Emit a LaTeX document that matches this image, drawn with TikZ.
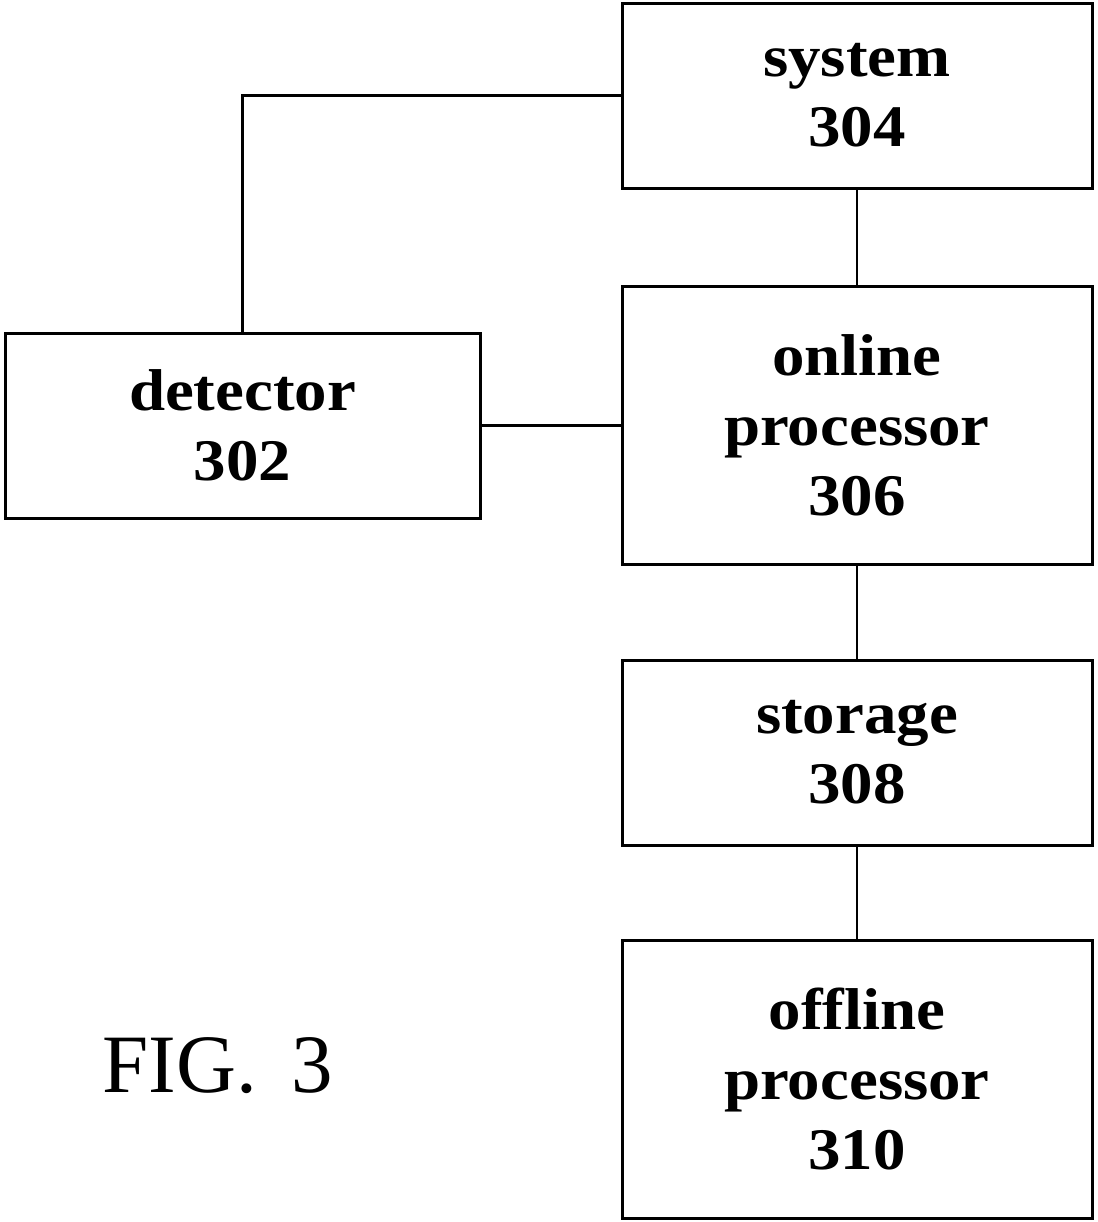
\documentclass[tikz,border=0pt]{standalone}
\usepackage{fontspec}
\setmainfont{Liberation Serif}
\newfontfamily\boxfont[FakeStretch=1.1]{Liberation Serif}
\usetikzlibrary{positioning}

\begin{document}
\begin{tikzpicture}[x=0.5pt,y=-0.5pt,
    block/.style={draw,line width=1.5pt,inner sep=0pt,align=center,
      minimum width=235pt,minimum height=92.5pt,
      font=\boxfont\fontsize{29.5}{35}\selectfont\bfseries},
    tall/.style={minimum height=139pt},
    link/.style={line width=1.2pt}]
  \useasboundingbox (0,0) rectangle (1098,1222);

  \node[block] (sys) at (857,95.5) {system\\304};
  \node[block,tall] (online) at (857,425) {online\\processor\\306};
  \node[block,minimum width=237.5pt] (det) at (242.5,425.5) {detector\\302};
  \node[block] (store) at (857,752.5) {storage\\308};
  \node[block,tall] (offline) at (857,1079) {offline\\processor\\310};
  \node[anchor=base,font=\fontsize{41.5}{45}\selectfont] (fig) at (218,1092) {FIG.\,\ 3};

  \draw[link] (det.north) |- (sys.west);
  \draw[link] (det.east) -- (det.east -| online.west);
  \draw[link] (sys) -- (online);
  \draw[link] (online) -- (store);
  \draw[link] (store) -- (offline);
\end{tikzpicture}
\end{document}
